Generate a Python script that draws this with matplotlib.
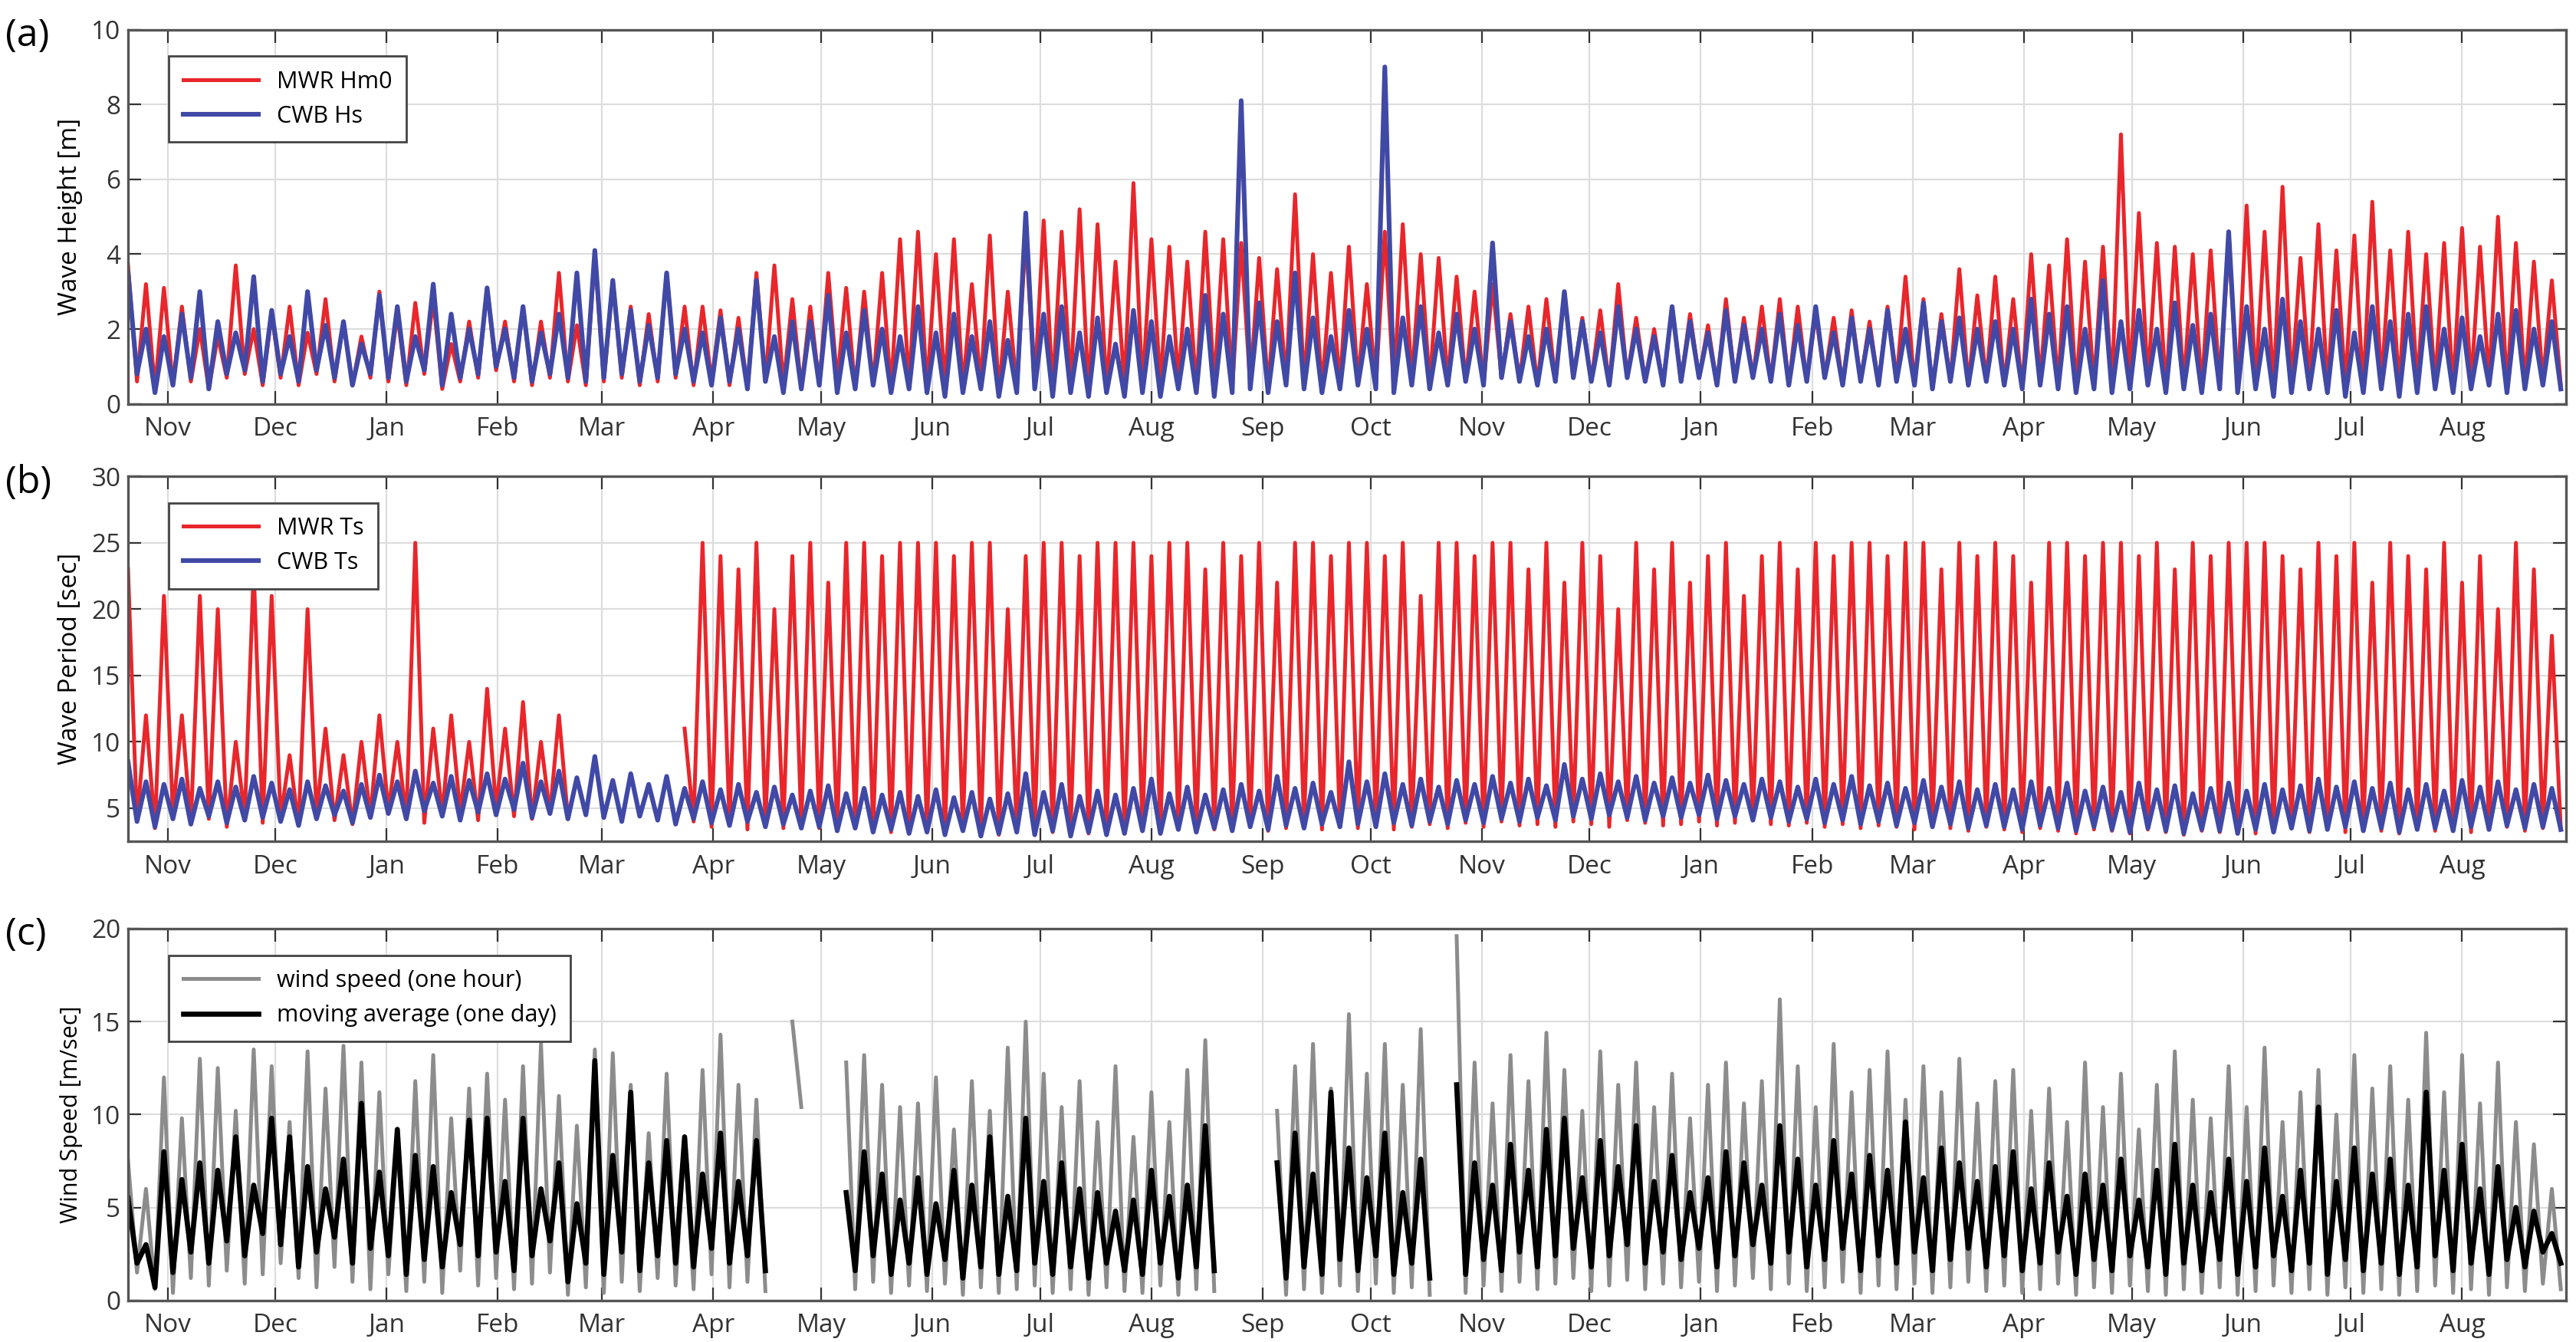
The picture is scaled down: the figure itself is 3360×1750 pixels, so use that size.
import numpy as np
import matplotlib.pyplot as plt
import matplotlib.dates as mdates

nan = np.nan
START = np.datetime64('2015-10-21')
STEP = 5  # days between samples; peaks at t, troughs at t + 2.5 days

# ---- (a) wave height [m]
hm0_hi = [3.7, 3.2,
          3.1, 2.6, 2.0, 1.8, 3.7, 2.0,
          2.4, 2.6, 1.9, 2.8, 2.2, 1.8,
          3.0, 2.4, 2.7, 2.8, 1.6, 2.2,
          3.1, 2.2, 2.6, 2.2, 3.5, 2.1,
          4.0, 3.3, 2.6, 2.4, 3.5, 2.6,
          2.6, 2.5, 2.3, 3.5, 3.7, 2.8,
          2.6, 3.5, 3.1, 3.0, 3.5, 4.4,
          4.6, 4.0, 4.4, 3.2, 4.5, 3.0,
          4.5, 4.9, 4.6, 5.2, 4.8, 3.8,
          5.9, 4.4, 4.2, 3.8, 4.6, 4.4,
          4.3, 3.9, 3.6, 5.6, 4.0, 3.5,
          4.2, 3.2, 4.6, 4.8, 4.0, 3.9,
          3.4, 3.0, 3.2, 2.4, 2.6, 2.8,
          3.0, 2.3, 2.5, 3.2, 2.3, 2.0,
          2.6, 2.4, 2.1, 2.8, 2.3, 2.6,
          2.8, 2.6, 2.4, 2.3, 2.5, 2.2,
          2.6, 3.4, 2.8, 2.4, 3.6, 2.9,
          3.4, 2.8, 4.0, 3.7, 4.4, 3.8,
          4.2, 7.2, 5.1, 4.3, 4.2, 4.0,
          4.1, 4.3, 5.3, 4.6, 5.8, 3.9,
          4.8, 4.1, 4.5, 5.4, 4.1, 4.6,
          4.0, 4.3, 4.7, 4.2, 5.0, 4.3, 3.8, 3.3]
hm0_lo = [0.6, 0.4,
          0.5, 0.6, 0.4, 0.7, 0.8, 0.5,
          0.7, 0.5, 0.8, 0.6, 0.5, 0.7,
          0.6, 0.5, 0.8, 0.4, 0.6, 0.7,
          0.9, 0.6, 0.5, 0.7, 0.6, 0.5,
          0.6, 0.7, 0.5, 0.6, 0.7, 0.5,
          0.6, 0.5, 0.4, 0.6, 0.5, 0.4,
          0.5, 0.6, 0.4, 0.5, 0.4, 0.5,
          0.4, 0.5, 0.4, 0.5, 0.3, 0.4,
          0.5, 0.4, 0.5, 0.3, 0.4, 0.5,
          0.4, 0.5, 0.6, 0.4, 0.5, 0.4,
          0.5, 0.4, 0.6, 0.5, 0.4, 0.5,
          0.6, 0.5, 0.4, 0.6, 0.5, 0.6,
          0.6, 0.5, 0.7, 0.6, 0.5, 0.6,
          0.7, 0.6, 0.5, 0.7, 0.6, 0.5,
          0.6, 0.7, 0.5, 0.6, 0.7, 0.6,
          0.5, 0.6, 0.7, 0.5, 0.6, 0.5,
          0.6, 0.5, 0.4, 0.6, 0.5, 0.6,
          0.5, 0.4, 0.6, 0.5, 0.4, 0.5,
          0.4, 0.5, 0.6, 0.4, 0.5, 0.4,
          0.5, 0.4, 0.5, 0.4, 0.5, 0.6,
          0.4, 0.5, 0.4, 0.5, 0.4, 0.5,
          0.5, 0.4, 0.5, 0.6, 0.4, 0.5, 0.6, 0.5]
hs_hi = [3.5, 2.0,
         1.8, 2.4, 3.0, 2.2, 1.9, 3.4,
         2.5, 1.8, 3.0, 2.1, 2.2, 1.6,
         2.9, 2.6, 1.8, 3.2, 2.4, 2.0,
         3.1, 2.0, 2.6, 1.9, 2.4, 3.5,
         4.1, 3.3, 2.5, 2.1, 3.5, 2.0,
         1.9, 2.3, 2.0, 3.3, 1.8, 2.2,
         2.2, 2.9, 1.9, 2.5, 2.0, 1.8,
         2.6, 1.9, 2.4, 1.8, 2.2, 1.7,
         5.1, 2.4, 2.6, 1.9, 2.3, 1.6,
         2.5, 2.2, 1.8, 2.0, 2.9, 2.4,
         8.1, 2.7, 2.2, 3.5, 2.3, 1.8,
         2.5, 2.0, 9.0, 2.3, 2.6, 1.9,
         2.4, 2.0, 4.3, 2.2, 1.8, 2.0,
         3.0, 2.2, 1.9, 2.6, 2.0, 1.8,
         2.6, 2.2, 1.9, 2.5, 2.1, 2.0,
         2.4, 2.1, 2.6, 1.9, 2.3, 2.0,
         2.5, 2.0, 2.7, 2.2, 2.3, 2.0,
         2.2, 2.0, 2.8, 2.4, 2.6, 2.0,
         3.3, 2.2, 2.5, 2.0, 2.7, 2.1,
         2.4, 4.6, 2.6, 2.0, 2.8, 2.2,
         2.0, 2.5, 1.9, 2.6, 2.2, 2.4,
         2.6, 2.0, 2.3, 1.8, 2.4, 2.5, 2.0, 2.2]
hs_lo = [0.8, 0.3,
         0.5, 0.7, 0.4, 0.8, 0.9, 0.6,
         0.8, 0.6, 0.9, 0.7, 0.5, 0.8,
         0.7, 0.6, 0.9, 0.5, 0.7, 0.8,
         1.0, 0.7, 0.6, 0.8, 0.7, 0.6,
         0.7, 0.8, 0.6, 0.7, 0.8, 0.6,
         0.5, 0.6, 0.4, 0.6, 0.3, 0.4,
         0.5, 0.3, 0.4, 0.5, 0.3, 0.4,
         0.3, 0.2, 0.3, 0.4, 0.2, 0.3,
         0.4, 0.2, 0.3, 0.2, 0.3, 0.2,
         0.3, 0.2, 0.4, 0.3, 0.2, 0.3,
         0.4, 0.3, 0.5, 0.4, 0.3, 0.4,
         0.5, 0.4, 0.3, 0.5, 0.4, 0.5,
         0.6, 0.5, 0.7, 0.6, 0.5, 0.6,
         0.7, 0.6, 0.5, 0.7, 0.6, 0.5,
         0.6, 0.7, 0.5, 0.6, 0.7, 0.6,
         0.5, 0.6, 0.7, 0.5, 0.6, 0.5,
         0.6, 0.5, 0.4, 0.6, 0.5, 0.6,
         0.5, 0.4, 0.5, 0.4, 0.3, 0.4,
         0.3, 0.4, 0.5, 0.3, 0.4, 0.3,
         0.4, 0.3, 0.4, 0.2, 0.3, 0.4,
         0.3, 0.2, 0.3, 0.4, 0.2, 0.3,
         0.4, 0.3, 0.4, 0.5, 0.3, 0.4, 0.5, 0.4]

# ---- (b) wave period [sec]
ts_mwr_hi = [23, 12,
             21, 12, 21, 20, 10, 23,
             21, 9, 20, 11, 9, 10,
             12, 10, 25, 11, 12, 10,
             14, 11, 13, 10, 12, nan,
             nan, nan, nan, nan, nan, 11,
             25, 24, 23, 25, 20, 24,
             25, 22, 25, 25, 24, 25,
             25, 25, 24, 25, 25, 20,
             24, 25, 25, 24, 25, 25,
             25, 24, 25, 25, 23, 25,
             24, 25, 22, 25, 25, 24,
             25, 25, 24, 25, 21, 25,
             25, 24, 25, 25, 23, 25,
             22, 25, 24, 20, 25, 23,
             25, 22, 24, 25, 21, 24,
             25, 23, 25, 24, 25, 25,
             24, 25, 25, 23, 25, 24,
             25, 24, 22, 25, 25, 24,
             25, 25, 24, 25, 23, 25,
             24, 25, 25, 25, 24, 23,
             25, 24, 25, 22, 25, 24,
             23, 25, 22, 24, 20, 25, 23, 18]
ts_mwr_lo = [4.0, 3.5,
             4.5, 3.8, 4.2, 3.6, 4.4, 3.9,
             4.3, 3.7, 4.6, 4.1, 3.8, 4.4,
             4.8, 4.2, 3.9, 4.5, 4.7, 4.1,
             5.0, 4.4, 4.2, 4.6, 4.3, nan,
             nan, nan, nan, nan, nan, 4.0,
             3.6, 3.8, 3.4, 3.9, 3.5, 3.7,
             3.5, 3.3, 3.6, 3.4, 3.2, 3.5,
             3.3, 3.1, 3.4, 3.2, 3.0, 3.3,
             3.4, 3.2, 3.5, 3.1, 3.3, 3.4,
             3.5, 3.3, 3.6, 3.2, 3.4, 3.5,
             3.6, 3.3, 3.5, 3.7, 3.4, 3.6,
             3.5, 3.7, 3.4, 3.6, 3.8, 3.5,
             3.9, 3.6, 4.0, 3.7, 3.8, 3.6,
             4.0, 3.8, 3.6, 4.1, 3.9, 3.7,
             3.8, 4.0, 3.7, 3.9, 4.1, 3.8,
             3.7, 3.9, 3.6, 3.8, 3.5, 3.7,
             3.6, 3.4, 3.7, 3.5, 3.3, 3.6,
             3.4, 3.2, 3.5, 3.3, 3.1, 3.4,
             3.3, 3.1, 3.4, 3.2, 3.0, 3.3,
             3.2, 3.4, 3.1, 3.3, 3.5, 3.2,
             3.4, 3.2, 3.5, 3.3, 3.1, 3.4,
             3.3, 3.5, 3.2, 3.4, 3.6, 3.3, 3.5, 3.4]
ts_cwb_hi = [8.5, 7.0,
             6.8, 7.2, 6.5, 7.0, 6.6, 7.4,
             6.9, 6.4, 7.0, 6.7, 6.3, 6.8,
             7.5, 7.0, 7.8, 6.9, 7.4, 7.1,
             7.6, 7.2, 8.4, 7.0, 7.8, 7.3,
             8.9, 7.1, 7.6, 6.8, 7.4, 6.5,
             7.0, 6.4, 6.8, 6.2, 6.6, 6.0,
             6.3, 6.7, 6.1, 6.5, 6.0, 6.2,
             5.9, 6.4, 5.8, 6.2, 5.7, 6.1,
             7.6, 6.2, 6.8, 5.9, 6.3, 6.0,
             6.5, 7.2, 6.1, 6.6, 6.0, 6.4,
             6.8, 6.3, 7.4, 6.5, 6.9, 6.2,
             8.5, 7.0, 7.6, 6.8, 7.2, 6.6,
             7.1, 6.8, 7.4, 6.9, 7.2, 6.7,
             8.3, 7.2, 7.6, 7.0, 7.4, 6.9,
             7.3, 6.9, 7.5, 7.1, 6.8, 7.2,
             7.0, 6.6, 7.2, 6.8, 7.4, 6.7,
             6.9, 6.5, 7.1, 6.6, 7.0, 6.4,
             6.8, 6.4, 7.0, 6.5, 6.9, 6.3,
             6.6, 6.2, 6.9, 6.4, 6.7, 6.1,
             6.5, 6.9, 6.3, 6.8, 6.4, 6.7,
             7.2, 6.6, 7.0, 6.5, 6.9, 6.4,
             6.8, 6.3, 7.1, 6.6, 7.0, 6.4, 6.8, 6.5]
ts_cwb_lo = [4.0, 3.6,
             4.2, 3.8, 4.4, 3.9, 4.1, 4.3,
             4.0, 3.7, 4.2, 4.5, 3.9, 4.3,
             4.6, 4.2, 4.8, 4.4, 4.1, 4.7,
             4.5, 4.9, 4.3, 4.6, 4.2, 4.5,
             4.3, 4.0, 4.4, 4.1, 3.8, 4.2,
             3.9, 3.7, 4.0, 3.6, 3.8, 3.5,
             3.6, 3.3, 3.5, 3.2, 3.4, 3.1,
             3.2, 3.0, 3.3, 2.9, 3.1, 3.2,
             3.0, 3.3, 2.9, 3.2, 3.0, 3.1,
             3.3, 3.1, 3.4, 3.2, 3.5, 3.3,
             3.6, 3.4, 3.7, 3.5, 3.8, 3.6,
             3.8, 3.6, 3.9, 3.7, 4.0, 3.8,
             4.1, 3.9, 4.2, 4.0, 4.3, 4.1,
             4.4, 4.2, 4.5, 4.3, 4.1, 4.4,
             4.3, 4.5, 4.2, 4.4, 4.1, 4.3,
             4.0, 4.2, 3.9, 4.1, 3.8, 4.0,
             3.7, 3.9, 3.6, 3.8, 3.5, 3.7,
             3.6, 3.4, 3.7, 3.5, 3.3, 3.6,
             3.4, 3.2, 3.5, 3.3, 3.1, 3.4,
             3.3, 3.1, 3.4, 3.2, 3.5, 3.3,
             3.4, 3.6, 3.3, 3.5, 3.2, 3.4,
             3.5, 3.3, 3.6, 3.4, 3.7, 3.5, 3.6, 3.4]

# ---- (c) wind speed [m/sec]
wind_hi = [7.5, 6.0,
           12.0, 9.8, 13.0, 12.5, 10.2, 13.5,
           12.6, 9.6, 13.4, 11.4, 13.7, 12.8,
           11.2, 8.6, 11.8, 13.2, 9.8, 11.4,
           12.2, 10.8, 12.6, 13.8, 11.0, 9.4,
           13.5, 13.3, 11.6, 9.0, 12.2, 8.8,
           12.4, 14.3, 11.6, 10.8, nan, 15.0,
           nan, nan, 12.8, 13.2, 11.6, 10.4,
           10.6, 12.0, 9.2, 11.8, 10.2, 13.6,
           15.0, 12.2, 10.4, 11.8, 9.6, 12.6,
           8.8, 11.2, 9.6, 12.4, 14.0, nan,
           nan, nan, 10.2, 12.6, 13.8, 11.4,
           15.4, 12.2, 13.8, 11.6, 14.6, nan,
           19.6, 12.8, 10.6, 13.2, 11.8, 14.4,
           12.4, 10.2, 13.4, 11.6, 12.8, 10.4,
           12.2, 9.8, 11.6, 12.8, 10.6, 11.8,
           16.2, 12.6, 10.4, 13.8, 11.2, 12.4,
           13.4, 10.8, 12.6, 11.2, 13.0, 10.6,
           11.8, 12.4, 10.2, 11.4, 9.6, 12.8,
           10.4, 12.2, 9.2, 11.6, 13.4, 10.8,
           9.8, 12.6, 10.4, 13.6, 9.6, 11.2,
           12.4, 10.0, 13.2, 11.4, 12.6, 10.8,
           14.4, 11.2, 13.2, 10.6, 12.8, 9.6, 8.4, 6.0]
wind_lo = [1.5, 0.6,
           0.4, 1.2, 0.8, 1.6, 0.9, 1.4,
           2.0, 1.2, 0.7, 1.8, 1.0, 0.6,
           1.4, 0.5, 1.0, 0.4, 1.6, 0.8,
           1.2, 0.6, 0.9, 1.5, 0.3, 0.7,
           0.4, 1.0, 0.5, 1.2, 0.8, 0.6,
           1.4, 0.7, 1.0, 0.5, nan, 10.4,
           nan, nan, 0.6, 1.0, 0.4, 0.8,
           0.5, 0.9, 0.3, 0.7, 0.4, 0.6,
           0.8, 0.4, 0.6, 0.3, 0.7, 0.5,
           0.4, 0.8, 0.3, 0.6, 0.5, nan,
           nan, nan, 0.3, 0.6, 0.4, 0.8,
           0.5, 0.9, 0.4, 0.7, 0.3, nan,
           0.4, 0.8, 0.5, 1.0, 0.6, 0.9,
           1.2, 0.5, 0.8, 1.1, 0.6, 0.9,
           0.7, 1.0, 0.5, 0.8, 1.2, 0.6,
           0.9, 0.5, 0.7, 1.0, 0.4, 0.8,
           0.6, 0.9, 0.4, 0.7, 1.0, 0.5,
           0.8, 0.4, 0.6, 0.9, 0.3, 0.7,
           0.4, 0.8, 0.5, 0.3, 0.6, 0.4,
           0.7, 0.3, 0.5, 0.8, 0.4, 0.6,
           0.3, 0.7, 0.4, 0.6, 0.3, 0.5,
           0.8, 0.4, 0.6, 0.3, 0.7, 0.5, 0.9, 0.6]
wavg_hi = [5.5, 3.0,
           8.0, 6.5, 7.4, 7.0, 8.8, 6.2,
           9.8, 8.8, 7.2, 6.0, 7.6, 10.6,
           6.9, 9.2, 7.8, 7.2, 5.8, 9.7,
           9.8, 6.4, 9.8, 6.0, 7.4, 5.2,
           12.9, 7.8, 11.2, 7.4, 8.6, 8.8,
           6.8, 9.0, 6.4, 8.6, nan, nan,
           nan, nan, 5.8, 8.0, 6.8, 5.4,
           6.6, 5.2, 7.0, 6.2, 8.8, 5.6,
           9.8, 6.4, 7.4, 6.0, 5.8, 4.8,
           5.4, 7.0, 5.6, 6.2, 9.4, nan,
           nan, nan, 7.4, 9.0, 6.8, 11.2,
           8.2, 6.6, 9.0, 5.8, 7.6, nan,
           11.6, 7.4, 6.2, 8.4, 7.0, 9.2,
           9.8, 6.6, 8.6, 7.2, 9.4, 6.4,
           7.8, 5.8, 6.6, 8.0, 7.4, 6.2,
           9.4, 7.6, 6.2, 8.6, 6.8, 7.8,
           7.0, 9.6, 6.6, 8.2, 7.4, 6.4,
           7.2, 8.0, 6.0, 7.4, 5.6, 6.8,
           6.2, 7.6, 5.4, 7.0, 8.4, 6.2,
           5.8, 7.6, 6.4, 8.2, 5.6, 7.0,
           10.4, 6.4, 8.2, 6.8, 7.6, 6.2,
           11.2, 7.0, 8.4, 6.0, 7.2, 5.0, 4.8, 3.6]
wavg_lo = [2.0, 0.7,
           1.5, 2.6, 2.0, 3.2, 2.4, 3.6,
           3.0, 1.8, 2.6, 3.4, 2.0, 2.8,
           2.4, 1.4, 2.2, 1.8, 3.0, 2.4,
           2.6, 1.6, 2.4, 3.2, 1.0, 2.0,
           1.4, 2.6, 1.6, 2.4, 2.0, 1.8,
           2.8, 2.0, 2.4, 1.6, nan, nan,
           nan, nan, 1.6, 2.4, 1.4, 2.0,
           1.4, 2.2, 1.2, 1.8, 1.4, 1.6,
           2.0, 1.4, 1.8, 1.2, 2.0, 1.6,
           1.4, 2.0, 1.2, 1.8, 1.6, nan,
           nan, nan, 1.2, 1.8, 1.4, 2.2,
           1.6, 2.4, 1.4, 2.0, 1.2, nan,
           1.4, 2.2, 1.6, 2.6, 1.8, 2.4,
           2.8, 1.8, 2.4, 3.0, 2.0, 2.6,
           2.2, 2.8, 1.8, 2.4, 3.0, 2.0,
           2.6, 1.8, 2.2, 2.8, 1.6, 2.4,
           2.0, 2.6, 1.6, 2.2, 2.8, 1.8,
           2.4, 1.6, 2.0, 2.6, 1.4, 2.2,
           1.6, 2.4, 1.8, 1.4, 2.0, 1.6,
           2.2, 1.4, 1.8, 2.4, 1.6, 2.0,
           1.4, 2.2, 1.6, 2.0, 1.4, 1.8,
           2.4, 1.6, 2.0, 1.4, 2.2, 1.8, 2.6, 2.0]


def zigzag(hi, lo):
    # alternate peak/trough samples on one time axis
    n = len(hi)
    t_hi = START + np.arange(n) * STEP * 24 * np.timedelta64(1, 'h')
    t_lo = t_hi + np.timedelta64(60, 'h')
    t = np.empty(2 * n, dtype='datetime64[h]')
    v = np.empty(2 * n)
    t[0::2], t[1::2] = t_hi, t_lo
    v[0::2], v[1::2] = hi, lo
    return t, v


plt.rcParams['font.family'] = ['Open Sans', 'DejaVu Sans']
RED = '#e8262b'
BLUE = '#4149a6'

fig = plt.figure(figsize=(16.8, 8.75), dpi=200)
axa = fig.add_axes([0.0497, 0.699, 0.9465, 0.279])
axb = fig.add_axes([0.0497, 0.373, 0.9465, 0.272])
axc = fig.add_axes([0.0497, 0.031, 0.9465, 0.277])

axa.plot(*zigzag(hm0_hi, hm0_lo), color=RED, lw=1.8, label='MWR Hm0')
axa.plot(*zigzag(hs_hi, hs_lo), color=BLUE, lw=2.2, label='CWB Hs')
axa.set_ylim(0, 10)
axa.set_yticks(range(0, 11, 2))
axa.set_ylabel('Wave Height [m]', fontsize=12)

axb.plot(*zigzag(ts_mwr_hi, ts_mwr_lo), color=RED, lw=1.8, label='MWR Ts')
axb.plot(*zigzag(ts_cwb_hi, ts_cwb_lo), color=BLUE, lw=2.2, label='CWB Ts')
axb.set_ylim(2.5, 30)
axb.set_yticks(range(5, 31, 5))
axb.set_ylabel('Wave Period [sec]', fontsize=12)

axc.plot(*zigzag(wind_hi, wind_lo), color='#8c8c8c', lw=1.8, label='wind speed (one hour)')
axc.plot(*zigzag(wavg_hi, wavg_lo), color='black', lw=2.4, label='moving average (one day)')
axc.set_ylim(0, 20)
axc.set_yticks(range(0, 21, 5))
axc.set_ylabel('Wind Speed [m/sec]', fontsize=11)

for ax, tag in zip([axa, axb, axc], ['(a)', '(b)', '(c)']):
    ax.set_xlim(np.datetime64('2015-10-21'), np.datetime64('2017-08-30'))
    ax.xaxis.set_major_locator(mdates.MonthLocator())
    ax.xaxis.set_major_formatter(mdates.DateFormatter('%b'))
    ax.tick_params(direction='in', top=True, right=True, length=6,
                   labelsize=12, colors='#333333')
    ax.tick_params(axis='x', pad=6)
    ax.grid(True, color='#dddddd', lw=0.8)
    for s in ax.spines.values():
        s.set_color('#555555')
        s.set_linewidth(1.2)
    leg = ax.legend(loc='upper left', fontsize=11, fancybox=False,
                    edgecolor='#444444', framealpha=1, borderpad=0.6,
                    handlelength=3.2, bbox_to_anchor=(0.012, 0.96))
    leg.get_frame().set_linewidth(1.0)
    fig.text(0.002, ax.get_position().y1 - 0.005, tag, fontsize=18,
             va='center', ha='left')

fig.savefig('out.png', dpi=200)
